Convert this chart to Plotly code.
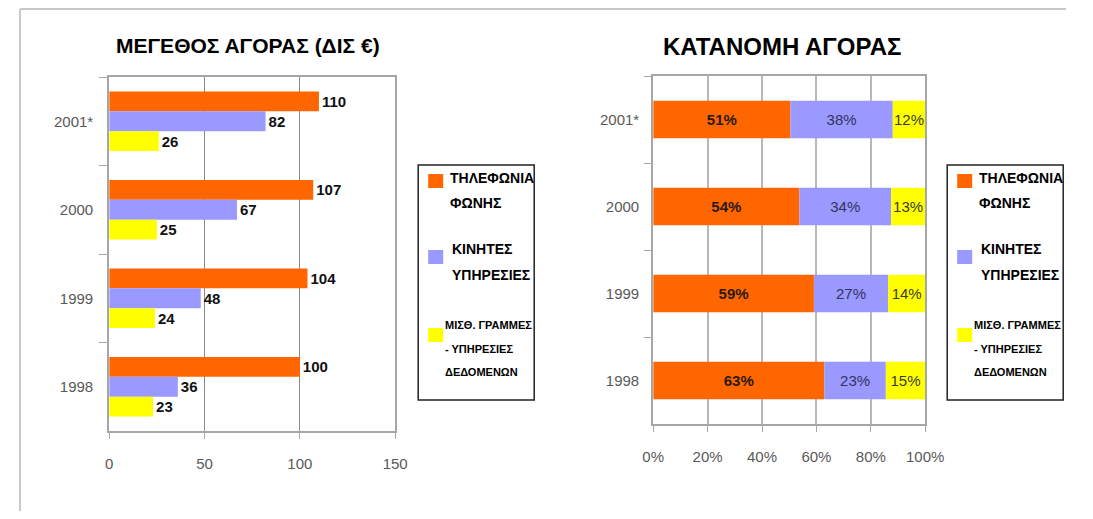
import plotly.graph_objects as go

# page body keeps its 8px margin, so the figure is sized to fit inside it
FIG_W, FIG_H = 1077, 503

YEARS = ["2001*", "2000", "1999", "1998"]
VOICE = [110, 107, 104, 100]
MOBILE = [82, 67, 48, 36]
LEASED = [26, 25, 24, 23]

VOICE_PCT = ["51%", "54%", "59%", "63%"]
MOBILE_PCT = ["38%", "34%", "27%", "23%"]
LEASED_PCT = ["12%", "13%", "14%", "15%"]

SERIES_LINES = [
    ["ΤΗΛΕΦΩΝΙΑ", "ΦΩΝΗΣ"],
    ["ΚΙΝΗΤΕΣ", "ΥΠΗΡΕΣΙΕΣ"],
    ["ΜΙΣΘ. ΓΡΑΜΜΕΣ", "- ΥΠΗΡΕΣΙΕΣ", "ΔΕΔΟΜΕΝΩΝ"],
]
COLORS = ["#FF6600", "#9999FF", "#FFFF00"]

ARIAL = "Liberation Sans, Arial, sans-serif"
AXIS_GRAY = "#a6a6a6"
TICK_TXT = "#595959"


def px(x):
    # screen pixel -> paper fraction (measured from previous renders)
    return (x - 18.8) / 1047


def py(y):
    return 1 - (y - 8) / FIG_H


fig = go.Figure()

# left chart: grouped bars with values
for vals, color, lines in zip([VOICE, MOBILE, LEASED], COLORS, SERIES_LINES):
    fig.add_trace(go.Bar(
        x=vals, y=YEARS, orientation="h", name=" ".join(lines),
        marker=dict(color=color, line=dict(width=0)),
        text=vals, textposition="outside", constraintext="none", cliponaxis=False,
        textfont=dict(family=ARIAL, size=15, color="#111111", weight="bold"),
        xaxis="x", yaxis="y", showlegend=False, hoverinfo="x+y",
    ))

# right chart: 100% stacked shares of the same totals
totals = [a + b + c for a, b, c in zip(VOICE, MOBILE, LEASED)]
base = [0.0] * len(YEARS)
pct_text = [VOICE_PCT, MOBILE_PCT, LEASED_PCT]
txt_colors = ["#2a1a10", "#33335c", "#3a3a30"]
weights = ["bold", "normal", "normal"]
for i, (vals, color, lines) in enumerate(zip([VOICE, MOBILE, LEASED], COLORS, SERIES_LINES)):
    share = [v / t * 100 for v, t in zip(vals, totals)]
    fig.add_trace(go.Bar(
        x=share, y=YEARS, base=base, orientation="h", name=" ".join(lines),
        offsetgroup="pct", width=0.43,
        marker=dict(color=color, line=dict(width=0)),
        text=pct_text[i], textposition="inside", insidetextanchor="middle",
        textangle=0, constraintext="none",
        textfont=dict(family=ARIAL, size=15, color=txt_colors[i], weight=weights[i]),
        xaxis="x2", yaxis="y2", showlegend=False, hoverinfo="text+y",
    ))
    base = [b + s for b, s in zip(base, share)]

shapes = [
    dict(type="line", xref="paper", yref="paper", x0=0.001, x1=1, y0=py(9), y1=py(9),
         line=dict(color="#c8c8c8", width=2)),
    dict(type="line", xref="paper", yref="paper", x0=0.001, x1=0.001, y0=py(9), y1=0,
         line=dict(color="#c8c8c8", width=2)),
]
annotations = [
    dict(text="ΜΕΓΕΘΟΣ ΑΓΟΡΑΣ (ΔΙΣ €)", x=px(248), y=py(46), xref="paper", yref="paper",
         xanchor="center", yanchor="middle", showarrow=False,
         font=dict(family=ARIAL, size=21, color="#000000", weight="bold")),
    dict(text="ΚΑΤΑΝΟΜΗ ΑΓΟΡΑΣ", x=px(782), y=py(47), xref="paper", yref="paper",
         xanchor="center", yanchor="middle", showarrow=False,
         font=dict(family=ARIAL, size=24, color="#000000", weight="bold")),
]

# hand-built legend boxes (text lines are spaced wider than plotly's legend allows)
LINE_Y = [[178, 203], [249, 275], [325, 349, 372]]
SWATCH_Y = [181, 257, 335]
TEXT_DX = [30, 32, 25]
TEXT_SIZE = [14, 14, 11]


def add_legend(x0):
    shapes.append(dict(type="rect", xref="paper", yref="paper",
                       x0=px(x0), x1=px(x0 + 116), y0=py(400), y1=py(165),
                       line=dict(color="#222222", width=1.5), fillcolor="white"))
    for k, lines in enumerate(SERIES_LINES):
        sy = SWATCH_Y[k]
        shapes.append(dict(type="rect", xref="paper", yref="paper",
                           x0=px(x0 + 10), x1=px(x0 + 25), y0=py(sy + 7), y1=py(sy - 7),
                           line=dict(width=0), fillcolor=COLORS[k]))
        for j, line in enumerate(lines):
            annotations.append(dict(
                text=line, x=px(x0 + TEXT_DX[k]), y=py(LINE_Y[k][j]),
                xref="paper", yref="paper", xanchor="left", yanchor="middle",
                showarrow=False,
                font=dict(family=ARIAL, size=TEXT_SIZE[k], color="#000000", weight="bold"),
            ))


add_legend(418)
add_legend(947)

axis_common = dict(showline=True, linecolor=AXIS_GRAY, linewidth=2, mirror=True,
                   ticks="outside", tickcolor=AXIS_GRAY, zeroline=False,
                   tickfont=dict(family=ARIAL, size=15, color=TICK_TXT))

fig.update_layout(
    width=FIG_W, height=FIG_H, autosize=False,
    margin=dict(l=0, r=0, t=0, b=0),
    paper_bgcolor="white", plot_bgcolor="white",
    barmode="group", bargap=0.33, bargroupgap=0,
    showlegend=False,
    xaxis=dict(domain=[px(109), px(395)], range=[0, 150], dtick=50, anchor="y",
               showgrid=True, gridcolor="#8a8a8a", gridwidth=1,
               ticklen=6, ticklabelstandoff=12, **axis_common),
    yaxis=dict(domain=[py(431), py(77)], type="category", categoryorder="array",
               categoryarray=YEARS, autorange="reversed", anchor="x",
               tickson="boundaries", ticklen=8, ticklabelstandoff=11, showgrid=False,
               **axis_common),
    xaxis2=dict(domain=[px(653), px(925)], range=[0, 100], dtick=20, ticksuffix="%",
                anchor="y2", showgrid=True, gridcolor="#b8b8b8", gridwidth=1.5,
                ticklen=6, ticklabelstandoff=12, **axis_common),
    yaxis2=dict(domain=[py(424), py(76)], type="category", categoryorder="array",
                categoryarray=YEARS, autorange="reversed", anchor="x2",
                tickson="boundaries", ticklen=7, ticklabelstandoff=9, showgrid=False,
                **axis_common),
    shapes=shapes,
    annotations=annotations,
)

fig.write_html("out.html")
